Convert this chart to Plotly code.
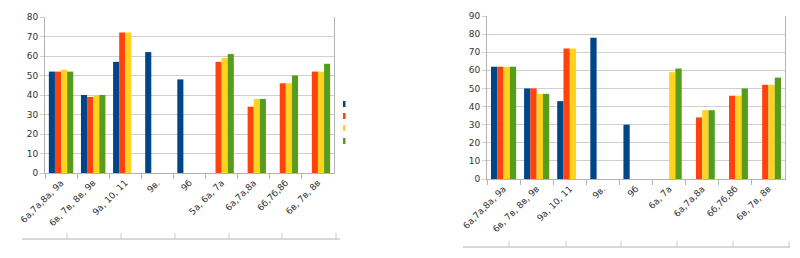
import plotly.graph_objects as go

# ---------------- data ----------------
cats_left = ["6а,7а,8а, 9а", "6в, 7в, 8в, 9в", "9а, 10, 11", "9в.", "9б",
             "5а, 6а, 7а", "6а,7а,8а", "6б,7б,8б", "6в, 7в, 8в"]
left_s1 = [52, 40, 57, 62, 48, None, None, None, None]
left_s2 = [52, 39, 72, None, None, 57, 34, 46, 52]
left_s3 = [53, 40, 72, None, None, 59, 38, 46, 52]
left_s4 = [52, 40, None, None, None, 61, 38, 50, 56]

cats_right = ["6а,7а,8а, 9а", "6в, 7в, 8в, 9в", "9а, 10, 11", "9в.", "9б",
              "6а, 7а", "6а,7а,8а", "6б,7б,8б", "6в, 7в, 8в"]
right_s1 = [62, 50, 43, 78, 30, None, None, None, None]
right_s2 = [62, 50, 72, None, None, None, 34, 46, 52]
right_s3 = [62, 47, 72, None, None, 59, 38, 46, 52]
right_s4 = [62, 47, None, None, None, 61, 38, 50, 56]

colors = ["#004586", "#ff420e", "#ffd320", "#579d1c"]

W, H = 800, 258
def px(x):
    return x / W
def py(y):
    return 1 - y / H

fig = go.Figure()

for i, vals in enumerate([left_s1, left_s2, left_s3, left_s4]):
    fig.add_trace(go.Bar(x=cats_left, y=vals, marker_color=colors[i],
                         marker_line_width=0, xaxis="x", yaxis="y",
                         showlegend=False))
for i, vals in enumerate([right_s1, right_s2, right_s3, right_s4]):
    fig.add_trace(go.Bar(x=cats_right, y=vals, marker_color=colors[i],
                         marker_line_width=0, xaxis="x2", yaxis="y2",
                         showlegend=False))

tickfont = dict(family="DejaVu Sans, Liberation Sans, sans-serif", size=9, color="#333333")

xcommon = dict(type="category", showgrid=False, showline=True, linecolor="#b3b3b3",
               linewidth=1, ticks="outside", tickson="boundaries", ticklen=5,
               tickcolor="#b3b3b3", tickangle=-45, tickfont=tickfont, zeroline=False,
               automargin=False)
ycommon = dict(showgrid=True, gridcolor="#d0d0d0", gridwidth=1, showline=True,
               linecolor="#b3b3b3", mirror=True, ticks="outside", ticklen=4,
               tickcolor="#d0d0d0", tickfont=tickfont, zeroline=False, dtick=10,
               automargin=False)

fig.update_layout(
    width=W, height=H, margin=dict(l=0, r=0, t=0, b=0),
    paper_bgcolor="white", plot_bgcolor="white",
    barmode="group", bargap=0.24, bargroupgap=0.0,
    xaxis=dict(domain=[px(45), px(334)], anchor="y", **xcommon),
    yaxis=dict(domain=[py(173), py(17)], range=[0, 80], anchor="x", **ycommon),
    xaxis2=dict(domain=[px(487), px(785)], anchor="y2", **xcommon),
    yaxis2=dict(domain=[py(179), py(16)], range=[0, 90], anchor="x2", **ycommon),
    showlegend=False,
)

shapes = []
# legend keys of the left chart (labels are empty in the reference)
for i, yc in enumerate([104, 116, 128, 141]):
    shapes.append(dict(type="rect", xref="paper", yref="paper",
                       x0=px(343), x1=px(345.5), y0=py(yc + 3), y1=py(yc - 3),
                       fillcolor=colors[i], line=dict(width=0)))

# document-table artifacts below the charts
shapes.append(dict(type="line", xref="paper", yref="paper", x0=px(22), x1=px(340),
                   y0=py(239), y1=py(239), line=dict(color="#b0b0b0", width=1)))
for xt in [67, 121, 175, 229, 282, 336]:
    shapes.append(dict(type="line", xref="paper", yref="paper", x0=px(xt), x1=px(xt),
                       y0=py(239), y1=py(233), line=dict(color="#c8c8c8", width=1)))
shapes.append(dict(type="line", xref="paper", yref="paper", x0=px(463), x1=px(790),
                   y0=py(247), y1=py(247), line=dict(color="#b0b0b0", width=1)))
for xt in [509, 566, 621, 677, 733, 789]:
    shapes.append(dict(type="line", xref="paper", yref="paper", x0=px(xt), x1=px(xt),
                       y0=py(247), y1=py(241), line=dict(color="#c8c8c8", width=1)))
fig.update_layout(shapes=shapes)

fig.write_html("out.html")
